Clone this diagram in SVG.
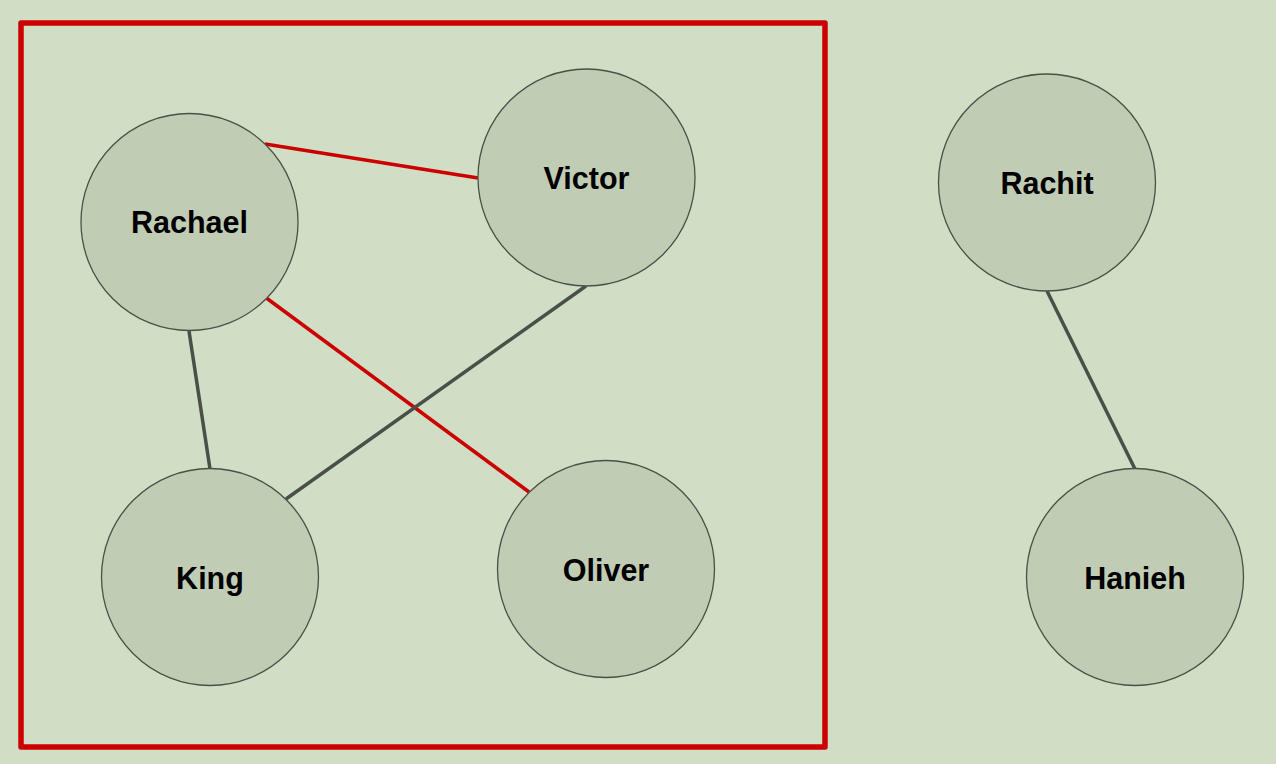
<svg xmlns="http://www.w3.org/2000/svg" width="1276" height="764" viewBox="0 0 1276 764">
<style>
.node circle{fill:#c0cdb4;stroke:#4a5048;stroke-width:1.3}
.node text{font-family:"Liberation Sans",Arial,sans-serif;font-weight:bold;font-size:30.5px;fill:#000;text-anchor:middle}
.red{stroke:#cc0000;stroke-width:3.5}
.dark{stroke:#4a5048;stroke-width:3.5}
</style>
<rect width="1276" height="764" fill="#cfdec4"/>
<rect x="21" y="23" width="804" height="724" fill="none" stroke="#cc0000" stroke-width="5.5" stroke-linejoin="round"/>
<g id="connectors">
<line class="red" x1="265" y1="144" x2="478" y2="178"/>
<line class="red" x1="265" y1="297" x2="529" y2="492"/>
<line class="dark" x1="189" y1="331" x2="210" y2="469"/>
<line class="dark" x1="586" y1="286" x2="286" y2="499"/>
<line class="dark" x1="1047" y1="291" x2="1135" y2="469"/>
</g>
<g id="rachael" class="node"><circle cx="189.5" cy="222" r="108.5"/><text x="189.5" y="233">Rachael</text></g>
<g id="victor" class="node"><circle cx="586.5" cy="177.5" r="108.5"/><text x="586.5" y="188.5">Victor</text></g>
<g id="king" class="node"><circle cx="210" cy="577" r="108.5"/><text x="210" y="588.5">King</text></g>
<g id="oliver" class="node"><circle cx="606" cy="569" r="108.5"/><text x="606" y="580.5">Oliver</text></g>
<g id="rachit" class="node"><circle cx="1047" cy="182.5" r="108.5"/><text x="1047" y="193.5">Rachit</text></g>
<g id="hanieh" class="node"><circle cx="1135" cy="577" r="108.5"/><text x="1135" y="588.5">Hanieh</text></g>
</svg>
